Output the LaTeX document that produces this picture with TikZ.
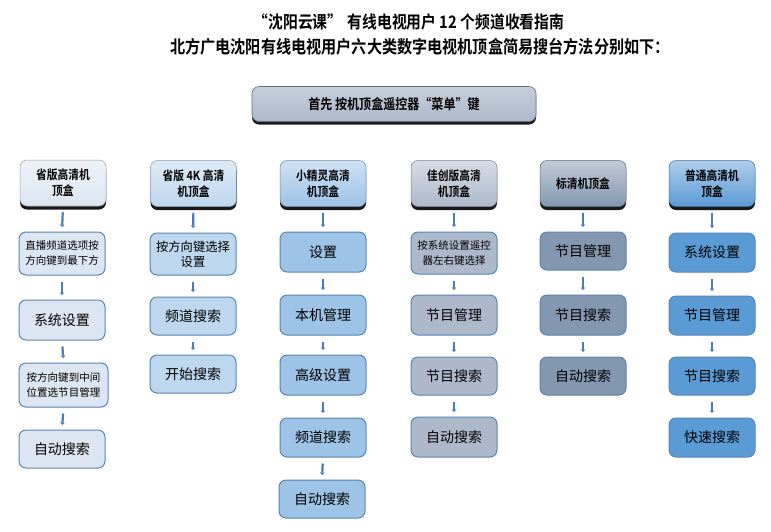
\documentclass[tikz,border=0pt]{standalone}
\usepackage{fontspec}
\setmainfont{Noto Sans CJK SC}[BoldFont={Noto Sans CJK SC Bold}]
\newfontfamily\hfont{Noto Sans CJK SC}[BoldFont={Noto Sans CJK SC Bold},FakeStretch=0.86]
\usetikzlibrary{shadows,arrows.meta}
\definecolor{ca}{HTML}{DCE6F2}
\definecolor{cb}{HTML}{BDD7EE}
\definecolor{cc}{HTML}{9DC3E6}
\definecolor{cd}{HTML}{ADB9CA}
\definecolor{ce}{HTML}{8497B0}
\definecolor{cf}{HTML}{5B9BD5}
\definecolor{bord}{HTML}{5A84B4}
\definecolor{arrc}{HTML}{4A7DB8}
\begin{document}
\begin{tikzpicture}[x=1pt,y=-1pt,
 box/.style={draw=bord, line width=1pt, rounded corners=7pt, align=center, inner sep=0pt, minimum width=86pt, text=black},
 hdr/.style={box, draw=#1!70!black, line width=0.5pt, top color=#1!50!white, bottom color=#1,
   drop shadow={shadow xshift=0pt, shadow yshift=-3.5pt, fill=black, opacity=0.9},
   minimum height=46pt, font=\hfont\bfseries\fontsize{12.5}{16}\selectfont},
 stp/.style={box, fill=#1, font=\fontsize{14}{16}\selectfont},
 sml/.style={box, fill=#1, font=\fontsize{10.5}{15}\selectfont},
 arr/.style={draw=arrc, line width=2.2pt, -{Triangle[width=4.5pt,length=2.5pt]}, shorten <=6pt, shorten >=4.5pt}]
\fill[white] (0,0) rectangle (771,531);
\useasboundingbox (0,0) rectangle (771,531);
% titles
\node[font=\hfont\bfseries\fontsize{17.2}{20}\selectfont] (t1) at (409,22) {“沈阳云课”\hspace{0.3em}有线电视用户 12 个频道收看指南};
\node[font=\hfont\bfseries\fontsize{17.6}{20}\selectfont] (t2) at (420,47) {北方广电沈阳有线电视用户六大类数字电视机顶盒简易搜台方法分别如下：};
% main box
\node[box, draw=cd!60!black, line width=0.6pt, top color=cd!70!white, bottom color=cd, minimum width=284pt, minimum height=35pt,
  drop shadow={shadow xshift=0pt, shadow yshift=-3pt, fill=black, opacity=0.9},
  font=\hfont\bfseries\fontsize{14}{16}\selectfont] (m) at (394,104) {首先 按机顶盒遥控器“菜单”键};
% column 1
\node[hdr=ca] (a0) at (63,183) {省版高清机\\顶盒};
\node[sml=ca] (a1) at (62,253.5) [minimum height=43pt] {直播频道选项按\\方向键到最下方};
\node[stp=ca] (a2) at (62,320) [minimum height=40pt] {系统设置};
\node[sml=ca] (a3) at (63.5,385) [minimum width=89pt, minimum height=44pt] {按方向键到中间\\位置选节目管理};
\node[stp=ca] (a4) at (62,449) [minimum height=38pt] {自动搜索};
% column 2
\node[hdr=cb] (b0) at (193.5,183.5) {省版 4K 高清\\机顶盒};
\node[stp=cb] (b1) at (193,254) [minimum height=42pt, font=\fontsize{12.3}{15}\selectfont] {按方向键选择\\设置};
\node[stp=cb] (b2) at (193,316) [minimum height=38pt] {频道搜索};
\node[stp=cb] (b3) at (193,374) [minimum height=38pt] {开始搜索};
% column 3
\node[hdr=cc] (c0) at (323,183.5) {小精灵高清\\机顶盒};
\node[stp=cc] (c1) at (323,252) [minimum height=40pt] {设置};
\node[stp=cc] (c2) at (323,315) [minimum height=40pt] {本机管理};
\node[stp=cc] (c3) at (323,375) [minimum height=40pt] {高级设置};
\node[stp=cc] (c4) at (323,437.5) [minimum height=39pt] {频道搜索};
\node[stp=cc] (c5) at (322,499) [minimum height=38pt] {自动搜索};
% column 4
\node[hdr=cd] (d0) at (454,183.5) {佳创版高清\\机顶盒};
\node[sml=cd] (d1) at (454,253) [minimum height=42pt] {按系统设置遥控\\器左右键选择};
\node[stp=cd] (d2) at (454,315) [minimum height=40pt] {节目管理};
\node[stp=cd] (d3) at (454,376) [minimum height=38pt] {节目搜索};
\node[stp=cd] (d4) at (454,437) [minimum height=40pt] {自动搜索};
% column 5
\node[hdr=ce] (e0) at (583,183.5) {标清机顶盒};
\node[stp=ce] (e1) at (583,251) [minimum height=38pt] {节目管理};
\node[stp=ce] (e2) at (583,315) [minimum height=40pt] {节目搜索};
\node[stp=ce] (e3) at (583,376) [minimum height=38pt] {自动搜索};
% column 6
\node[hdr=cf] (f0) at (712,183.5) {普通高清机\\顶盒};
\node[stp=cf] (f1) at (712,252.5) [minimum height=39pt] {系统设置};
\node[stp=cf] (f2) at (712,315.5) [minimum height=39pt] {节目管理};
\node[stp=cf] (f3) at (712,376) [minimum height=38pt] {节目搜索};
\node[stp=cf] (f4) at (712,437.5) [minimum height=39pt] {快速搜索};
% arrows
\foreach \p/\q in {a0/a1,a1/a2,a2/a3,a3/a4,b0/b1,b1/b2,b2/b3,c0/c1,c1/c2,c2/c3,c3/c4,c4/c5,d0/d1,d1/d2,d2/d3,d3/d4,e0/e1,e1/e2,e2/e3,f0/f1,f1/f2,f2/f3,f3/f4}
  \draw[arr] (\p.south) -- (\q.north);
\end{tikzpicture}
\end{document}
